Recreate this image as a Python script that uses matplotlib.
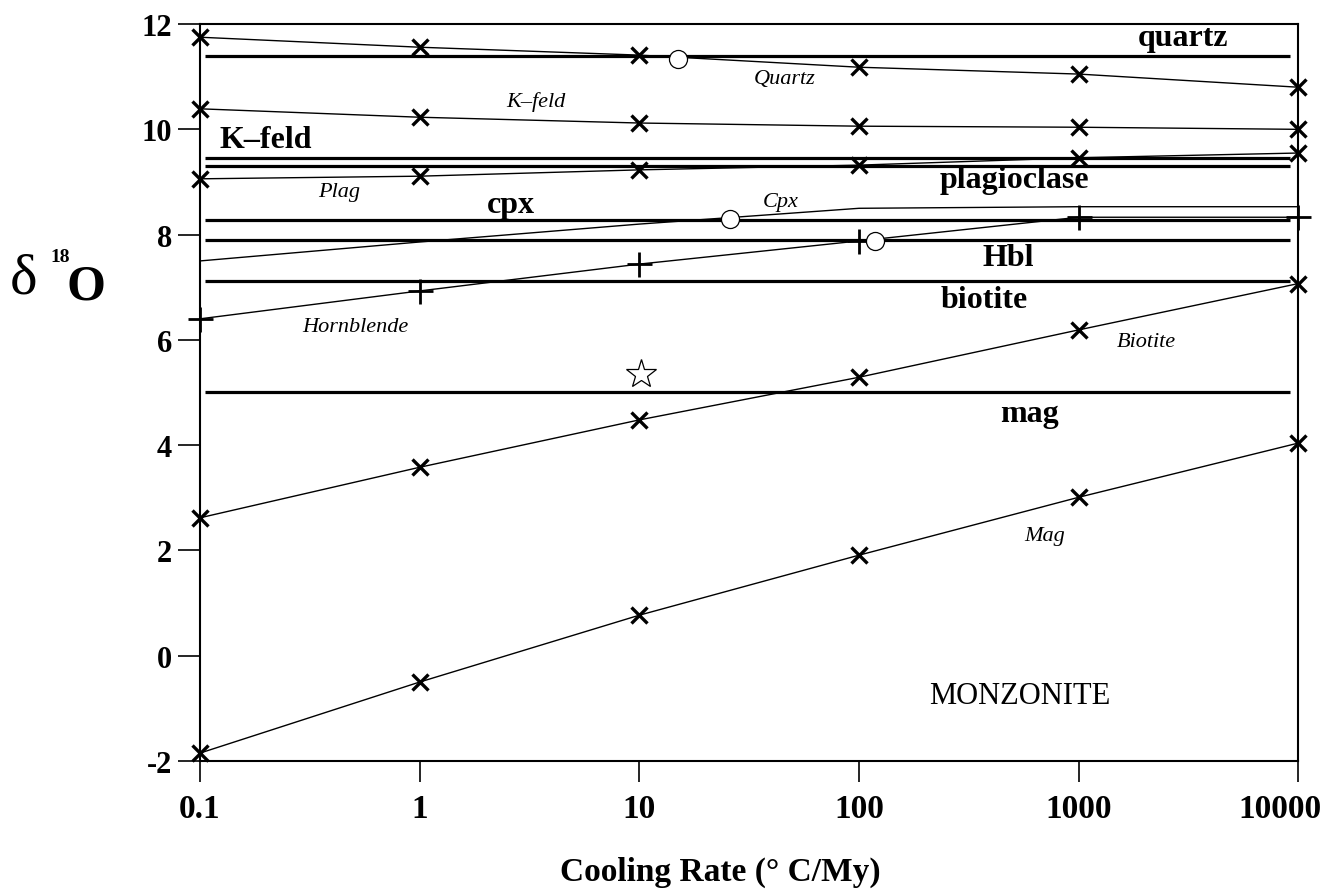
import matplotlib
matplotlib.use('Agg')
import matplotlib.pyplot as plt
import matplotlib.transforms as mtransforms
import numpy as np

plt.rcParams['font.family'] = ['Liberation Serif', 'DejaVu Serif']
plt.rcParams['axes.unicode_minus'] = False

# cooling rates (deg C / My)
rates = [0.1, 1, 10, 100, 1000, 10000]
rate_labels = ['0.1', '1', '10', '100', '1000', '10000']

# calculated d18O vs cooling rate
quartz = [11.75, 11.56, 11.41, 11.18, 11.05, 10.80]
kfeld = [10.39, 10.23, 10.12, 10.06, 10.04, 10.00]
plag = [9.06, 9.11, 9.23, 9.32, 9.46, 9.55]
cpx = [7.50, 7.86, 8.20, 8.50, 8.53, 8.53]
hornblende = [6.40, 6.93, 7.44, 7.88, 8.33, 8.33]
biotite = [2.62, 3.58, 4.48, 5.29, 6.19, 7.07]
magnetite = [-1.85, -0.50, 0.77, 1.91, 3.01, 4.04]

# measured mineral values (horizontal lines)
measured_names = ['quartz', 'K\u2013feld', 'plagioclase', 'cpx', 'Hbl', 'biotite', 'mag']
measured_vals = [11.40, 9.45, 9.30, 8.27, 7.89, 7.12, 5.01]
measured_label_x = [3000, 0.20, 510, 2.6, 480, 370, 600]
measured_label_y = [11.75, 9.80, 9.04, 8.58, 7.57, 6.76, 4.61]

# open circles and star
circle_x = [15.0, 26.0, 118.0]
circle_y = [11.33, 8.30, 7.88]
star_x = [10.2]
star_y = [5.35]

# italic curve labels
curve_names = ['Quartz', 'K\u2013feld', 'Plag', 'Cpx', 'Hornblende', 'Biotite', 'Mag']
curve_label_x = [46, 3.4, 0.43, 44, 0.51, 2030, 700]
curve_label_y = [10.96, 10.54, 8.81, 8.62, 6.26, 5.96, 2.29]

fig = plt.figure(figsize=(13.33, 8.95), dpi=100)
ax = fig.add_axes([0.150, 0.1486, 0.824, 0.8234])

for ys in [quartz, kfeld, plag, biotite, magnetite]:
    ax.plot(rates, ys, color='black', lw=1.0, marker='x', ms=12, mew=2.4,
            clip_on=False, zorder=3)
ax.plot(rates, cpx, color='black', lw=1.0)
ax.plot(rates, hornblende, color='black', lw=1.0, marker='+', ms=18, mew=2.0,
        clip_on=False, zorder=3)

ax.hlines(measured_vals, 0.105, 9200, colors='black', lw=2.3)

ax.plot(circle_x, circle_y, ls='none', marker='o', ms=13, mfc='white',
        mec='black', mew=0.9, zorder=4)
ax.plot(star_x, star_y, ls='none', marker='*', ms=22, mfc='white',
        mec='black', mew=0.9, zorder=4)

for name, x, y in zip(measured_names, measured_label_x, measured_label_y):
    ax.text(x, y, name, fontsize=23, fontweight='bold', ha='center', va='center')
for name, x, y in zip(curve_names, curve_label_x, curve_label_y):
    ax.text(x, y, name, fontsize=16, fontstyle='italic', ha='center', va='center')
ax.text(540, -0.75, 'MONZONITE', fontsize=22, ha='center', va='center')

ax.set_xscale('log')
ax.set_xlim(0.1, 10000)
ax.set_ylim(-2, 12)
ax.set_xticks(rates, rate_labels)
ax.xaxis.set_minor_locator(matplotlib.ticker.NullLocator())
ax.set_yticks(np.arange(-2, 13, 2))
ax.tick_params(axis='x', direction='out', length=15, width=1.2, pad=8,
               labelsize=24)
ax.tick_params(axis='y', direction='out', length=16, width=1.2, pad=4,
               labelsize=22)
for lab in ax.get_xticklabels() + ax.get_yticklabels():
    lab.set_fontweight('bold')
# last label pulled left so it stays inside the figure
last = ax.get_xticklabels()[-1]
last.set_transform(last.get_transform() +
                   mtransforms.ScaledTranslation(-13 / 72, 0, fig.dpi_scale_trans))
for sp in ax.spines.values():
    sp.set_linewidth(1.5)

ax.set_xlabel('Cooling Rate (\u00b0 C/My)', fontsize=24, fontweight='bold')
ax.xaxis.set_label_coords(0.474, -0.128)

fig.text(24 / 1333, 1 - 280 / 895, '\u03b4', fontsize=42, ha='center', va='center')
fig.text(60 / 1333, 1 - 257 / 895, '18', fontsize=14, fontweight='bold',
         ha='center', va='center')
fig.text(86 / 1333, 1 - 287 / 895, 'O', fontsize=36, fontweight='bold',
         ha='center', va='center')

fig.savefig('out.png', dpi=100)
